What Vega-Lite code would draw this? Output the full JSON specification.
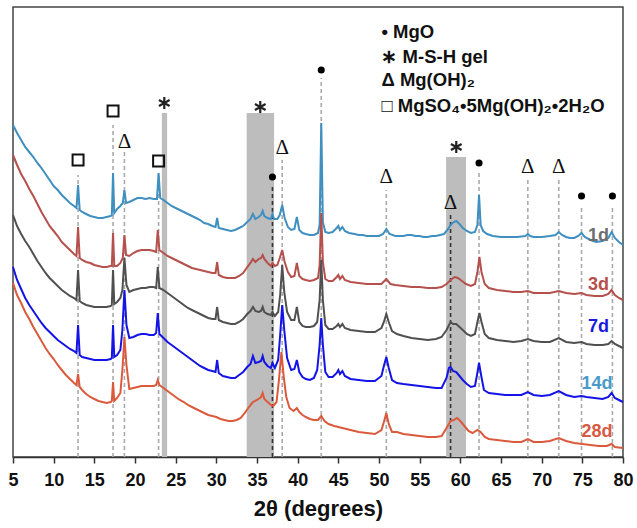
{
"$schema":"https://vega.github.io/schema/vega-lite/v6.json",
"width":610,"height":450,
"autosize":{"type":"none"},
"padding":{"left":13,"top":7,"right":14,"bottom":71},
"background":"white",
"config":{"view":{"stroke":"#444","strokeWidth":1.5}},
"datasets":{
"c1":[{"t":5.0,"v":332},{"t":5.5,"v":324},{"t":6.0,"v":317},{"t":6.5,"v":310},{"t":7.0,"v":305},{"t":7.5,"v":300},{"t":8.0,"v":294},{"t":8.5,"v":289},{"t":9.0,"v":283},{"t":9.5,"v":277},{"t":10.0,"v":271},{"t":10.5,"v":267},{"t":11.0,"v":262},{"t":11.5,"v":258},{"t":12.0,"v":254},{"t":12.5,"v":251},{"t":12.8,"v":249},{"t":13.0,"v":272},{"t":13.2,"v":247},{"t":13.5,"v":245},{"t":14.0,"v":243},{"t":14.5,"v":241},{"t":15.0,"v":240},{"t":15.5,"v":239},{"t":16.0,"v":239},{"t":16.5,"v":240},{"t":17.0,"v":241},{"t":17.15,"v":242},{"t":17.3,"v":284},{"t":17.45,"v":244},{"t":17.8,"v":248},{"t":18.2,"v":251},{"t":18.5,"v":254},{"t":18.7,"v":267},{"t":18.9,"v":254},{"t":19.3,"v":255},{"t":19.8,"v":257},{"t":20.3,"v":259},{"t":20.8,"v":259},{"t":21.3,"v":258},{"t":21.8,"v":259},{"t":22.3,"v":258},{"t":22.7,"v":258},{"t":22.9,"v":284},{"t":23.1,"v":259},{"t":23.5,"v":257},{"t":24.0,"v":254},{"t":24.5,"v":251},{"t":25.0,"v":249},{"t":25.5,"v":247},{"t":26.0,"v":245},{"t":26.5,"v":243},{"t":27.0,"v":241},{"t":27.5,"v":239},{"t":28.0,"v":237},{"t":28.5,"v":234},{"t":29.0,"v":233},{"t":29.5,"v":231},{"t":29.9,"v":230},{"t":30.1,"v":239},{"t":30.3,"v":229},{"t":30.8,"v":228},{"t":31.3,"v":227},{"t":31.8,"v":226},{"t":32.3,"v":227},{"t":32.8,"v":229},{"t":33.3,"v":231},{"t":33.8,"v":235},{"t":34.2,"v":238},{"t":34.5,"v":243},{"t":34.8,"v":238},{"t":35.2,"v":240},{"t":35.5,"v":242},{"t":35.7,"v":246},{"t":35.9,"v":241},{"t":36.3,"v":239},{"t":36.7,"v":238},{"t":36.9,"v":243},{"t":37.1,"v":238},{"t":37.5,"v":238},{"t":37.8,"v":242},{"t":38.1,"v":252},{"t":38.4,"v":239},{"t":38.8,"v":230},{"t":39.2,"v":227},{"t":39.6,"v":228},{"t":39.9,"v":240},{"t":40.2,"v":227},{"t":40.6,"v":224},{"t":41.0,"v":223},{"t":41.5,"v":222},{"t":42.0,"v":222},{"t":42.5,"v":224},{"t":42.7,"v":232},{"t":42.9,"v":334},{"t":43.1,"v":235},{"t":43.4,"v":225},{"t":43.8,"v":224},{"t":44.3,"v":225},{"t":44.8,"v":229},{"t":45.0,"v":231},{"t":45.2,"v":227},{"t":45.5,"v":230},{"t":45.8,"v":226},{"t":46.3,"v":224},{"t":47.0,"v":223},{"t":47.5,"v":222},{"t":48.0,"v":222},{"t":48.5,"v":221},{"t":49.0,"v":221},{"t":49.5,"v":221},{"t":50.0,"v":221},{"t":50.5,"v":223},{"t":50.9,"v":228},{"t":51.3,"v":223},{"t":52.0,"v":221},{"t":52.5,"v":221},{"t":53.0,"v":221},{"t":53.5,"v":222},{"t":54.0,"v":222},{"t":54.5,"v":221},{"t":55.0,"v":221},{"t":55.5,"v":220},{"t":56.0,"v":220},{"t":56.5,"v":221},{"t":57.0,"v":221},{"t":57.5,"v":222},{"t":58.0,"v":223},{"t":58.5,"v":228},{"t":58.8,"v":232},{"t":59.2,"v":235},{"t":59.5,"v":236},{"t":59.9,"v":233},{"t":60.3,"v":229},{"t":60.8,"v":226},{"t":61.3,"v":224},{"t":61.8,"v":225},{"t":62.1,"v":232},{"t":62.3,"v":262},{"t":62.5,"v":232},{"t":62.8,"v":226},{"t":63.3,"v":223},{"t":64.0,"v":221},{"t":65.0,"v":220},{"t":66.0,"v":220},{"t":67.0,"v":220},{"t":68.0,"v":221},{"t":68.3,"v":223},{"t":68.6,"v":221},{"t":69.0,"v":220},{"t":70.0,"v":220},{"t":71.0,"v":221},{"t":71.7,"v":222},{"t":72.1,"v":225},{"t":72.5,"v":222},{"t":73.0,"v":220},{"t":73.5,"v":219},{"t":74.0,"v":219},{"t":74.5,"v":221},{"t":74.9,"v":224},{"t":75.3,"v":220},{"t":76.0,"v":217},{"t":76.7,"v":215},{"t":77.5,"v":216},{"t":78.2,"v":219},{"t":78.6,"v":225},{"t":79.0,"v":219},{"t":79.5,"v":215},{"t":80.0,"v":212}],
"c3":[{"t":5.0,"v":302},{"t":5.5,"v":292},{"t":6.0,"v":283},{"t":6.5,"v":276},{"t":7.0,"v":268},{"t":7.5,"v":261},{"t":8.0,"v":253},{"t":8.5,"v":245},{"t":9.0,"v":238},{"t":9.5,"v":231},{"t":10.0,"v":226},{"t":10.5,"v":221},{"t":11.0,"v":215},{"t":11.5,"v":211},{"t":12.0,"v":207},{"t":12.5,"v":203},{"t":12.8,"v":201},{"t":13.0,"v":230},{"t":13.2,"v":199},{"t":13.5,"v":197},{"t":14.0,"v":195},{"t":14.5,"v":194},{"t":15.0,"v":192},{"t":15.5,"v":191},{"t":16.0,"v":190},{"t":16.5,"v":190},{"t":17.0,"v":191},{"t":17.15,"v":191},{"t":17.3,"v":224},{"t":17.45,"v":191},{"t":17.8,"v":191},{"t":18.2,"v":194},{"t":18.5,"v":199},{"t":18.7,"v":222},{"t":18.9,"v":202},{"t":19.3,"v":201},{"t":19.8,"v":204},{"t":20.3,"v":206},{"t":20.8,"v":207},{"t":21.3,"v":207},{"t":21.8,"v":207},{"t":22.3,"v":206},{"t":22.6,"v":205},{"t":22.8,"v":227},{"t":23.0,"v":207},{"t":23.5,"v":204},{"t":24.0,"v":201},{"t":24.5,"v":199},{"t":25.0,"v":197},{"t":25.5,"v":195},{"t":26.0,"v":193},{"t":26.5,"v":191},{"t":27.0,"v":189},{"t":27.5,"v":188},{"t":28.0,"v":187},{"t":28.5,"v":186},{"t":29.0,"v":185},{"t":29.5,"v":184},{"t":29.9,"v":184},{"t":30.1,"v":195},{"t":30.3,"v":182},{"t":30.8,"v":180},{"t":31.3,"v":179},{"t":31.8,"v":179},{"t":32.3,"v":179},{"t":32.8,"v":181},{"t":33.3,"v":184},{"t":33.8,"v":190},{"t":34.2,"v":194},{"t":34.5,"v":198},{"t":34.8,"v":195},{"t":35.2,"v":198},{"t":35.5,"v":199},{"t":35.7,"v":202},{"t":35.9,"v":198},{"t":36.3,"v":194},{"t":36.7,"v":191},{"t":36.9,"v":194},{"t":37.2,"v":191},{"t":37.5,"v":192},{"t":37.8,"v":199},{"t":38.1,"v":207},{"t":38.4,"v":195},{"t":38.8,"v":185},{"t":39.2,"v":180},{"t":39.6,"v":181},{"t":39.9,"v":194},{"t":40.2,"v":181},{"t":40.6,"v":178},{"t":41.0,"v":177},{"t":41.5,"v":176},{"t":42.0,"v":177},{"t":42.5,"v":179},{"t":42.7,"v":192},{"t":42.9,"v":244},{"t":43.1,"v":195},{"t":43.4,"v":178},{"t":43.8,"v":176},{"t":44.3,"v":176},{"t":44.8,"v":180},{"t":45.0,"v":182},{"t":45.2,"v":178},{"t":45.5,"v":181},{"t":45.8,"v":177},{"t":46.5,"v":175},{"t":47.5,"v":174},{"t":48.5,"v":173},{"t":49.5,"v":173},{"t":50.3,"v":173},{"t":50.9,"v":178},{"t":51.4,"v":173},{"t":52.0,"v":172},{"t":53.0,"v":171},{"t":54.0,"v":170},{"t":55.0,"v":170},{"t":56.0,"v":169},{"t":57.0,"v":169},{"t":57.7,"v":170},{"t":58.3,"v":173},{"t":58.8,"v":177},{"t":59.3,"v":180},{"t":59.7,"v":179},{"t":60.2,"v":176},{"t":60.7,"v":173},{"t":61.3,"v":171},{"t":61.8,"v":173},{"t":62.1,"v":185},{"t":62.35,"v":200},{"t":62.6,"v":185},{"t":63.0,"v":173},{"t":63.5,"v":169},{"t":64.5,"v":167},{"t":65.5,"v":166},{"t":66.5,"v":165},{"t":67.5,"v":165},{"t":68.3,"v":166},{"t":69.0,"v":164},{"t":70.0,"v":164},{"t":71.0,"v":164},{"t":72.1,"v":166},{"t":73.0,"v":164},{"t":74.0,"v":163},{"t":74.9,"v":164},{"t":75.5,"v":162},{"t":76.5,"v":161},{"t":77.5,"v":161},{"t":78.2,"v":163},{"t":78.6,"v":167},{"t":79.0,"v":162},{"t":79.5,"v":159},{"t":80.0,"v":157}],
"c7":[{"t":5.0,"v":242},{"t":5.5,"v":231},{"t":6.0,"v":223},{"t":6.5,"v":216},{"t":7.0,"v":210},{"t":7.5,"v":203},{"t":8.0,"v":196},{"t":8.5,"v":190},{"t":9.0,"v":184},{"t":9.5,"v":179},{"t":10.0,"v":175},{"t":10.5,"v":171},{"t":11.0,"v":167},{"t":11.5,"v":164},{"t":12.0,"v":161},{"t":12.5,"v":159},{"t":12.8,"v":157},{"t":13.0,"v":187},{"t":13.2,"v":156},{"t":13.5,"v":154},{"t":14.0,"v":152},{"t":14.5,"v":151},{"t":15.0,"v":150},{"t":15.5,"v":150},{"t":16.0,"v":150},{"t":16.5,"v":150},{"t":17.0,"v":151},{"t":17.15,"v":152},{"t":17.3,"v":187},{"t":17.45,"v":153},{"t":17.8,"v":155},{"t":18.2,"v":159},{"t":18.45,"v":167},{"t":18.7,"v":199},{"t":18.95,"v":172},{"t":19.3,"v":165},{"t":19.8,"v":167},{"t":20.3,"v":168},{"t":20.8,"v":169},{"t":21.3,"v":169},{"t":21.8,"v":170},{"t":22.3,"v":170},{"t":22.6,"v":169},{"t":22.8,"v":190},{"t":23.0,"v":169},{"t":23.5,"v":167},{"t":24.0,"v":164},{"t":24.5,"v":161},{"t":25.0,"v":158},{"t":25.5,"v":155},{"t":26.0,"v":152},{"t":26.5,"v":149},{"t":27.0,"v":147},{"t":27.5,"v":145},{"t":28.0,"v":143},{"t":28.5,"v":141},{"t":29.0,"v":139},{"t":29.5,"v":138},{"t":29.9,"v":138},{"t":30.1,"v":150},{"t":30.3,"v":137},{"t":30.8,"v":135},{"t":31.3,"v":134},{"t":31.8,"v":133},{"t":32.3,"v":133},{"t":32.8,"v":135},{"t":33.3,"v":138},{"t":33.8,"v":143},{"t":34.2,"v":146},{"t":34.5,"v":150},{"t":34.8,"v":146},{"t":35.2,"v":145},{"t":35.5,"v":146},{"t":35.7,"v":150},{"t":35.9,"v":145},{"t":36.3,"v":143},{"t":36.7,"v":142},{"t":36.9,"v":145},{"t":37.2,"v":141},{"t":37.6,"v":145},{"t":37.85,"v":162},{"t":38.1,"v":192},{"t":38.35,"v":165},{"t":38.7,"v":145},{"t":39.2,"v":137},{"t":39.6,"v":137},{"t":39.9,"v":150},{"t":40.2,"v":135},{"t":40.6,"v":131},{"t":41.0,"v":130},{"t":41.5,"v":130},{"t":42.0,"v":131},{"t":42.4,"v":135},{"t":42.7,"v":157},{"t":42.9,"v":197},{"t":43.1,"v":157},{"t":43.4,"v":132},{"t":43.8,"v":128},{"t":44.3,"v":128},{"t":44.8,"v":131},{"t":45.0,"v":133},{"t":45.2,"v":130},{"t":45.5,"v":133},{"t":45.8,"v":129},{"t":46.5,"v":127},{"t":47.5,"v":126},{"t":48.5,"v":125},{"t":49.5,"v":125},{"t":50.3,"v":129},{"t":50.6,"v":135},{"t":50.9,"v":143},{"t":51.2,"v":135},{"t":51.6,"v":126},{"t":52.2,"v":123},{"t":53.0,"v":121},{"t":54.0,"v":119},{"t":55.0,"v":118},{"t":56.0,"v":117},{"t":57.0,"v":118},{"t":57.7,"v":120},{"t":58.3,"v":127},{"t":58.8,"v":135},{"t":59.1,"v":133},{"t":59.5,"v":133},{"t":59.9,"v":130},{"t":60.3,"v":127},{"t":60.8,"v":123},{"t":61.3,"v":121},{"t":61.8,"v":123},{"t":62.1,"v":135},{"t":62.35,"v":144},{"t":62.6,"v":135},{"t":63.0,"v":123},{"t":63.5,"v":119},{"t":64.5,"v":117},{"t":65.5,"v":116},{"t":66.5,"v":115},{"t":67.5,"v":116},{"t":68.3,"v":118},{"t":69.0,"v":116},{"t":70.0,"v":115},{"t":71.0,"v":115},{"t":72.1,"v":119},{"t":73.0,"v":115},{"t":74.0,"v":114},{"t":74.9,"v":115},{"t":75.5,"v":113},{"t":76.5,"v":112},{"t":77.5,"v":112},{"t":78.2,"v":113},{"t":78.6,"v":116},{"t":79.0,"v":113},{"t":79.5,"v":111},{"t":80.0,"v":109}],
"c14":[{"t":5.0,"v":190},{"t":5.5,"v":177},{"t":6.0,"v":168},{"t":6.5,"v":159},{"t":7.0,"v":152},{"t":7.5,"v":146},{"t":8.0,"v":140},{"t":8.5,"v":134},{"t":9.0,"v":129},{"t":9.5,"v":125},{"t":10.0,"v":121},{"t":10.5,"v":117},{"t":11.0,"v":114},{"t":11.5,"v":111},{"t":12.0,"v":108},{"t":12.5,"v":106},{"t":12.8,"v":104},{"t":13.0,"v":132},{"t":13.2,"v":102},{"t":13.5,"v":100},{"t":14.0,"v":99},{"t":14.5,"v":98},{"t":15.0,"v":97},{"t":15.5,"v":97},{"t":16.0,"v":97},{"t":16.5,"v":97},{"t":17.0,"v":98},{"t":17.15,"v":99},{"t":17.3,"v":132},{"t":17.45,"v":100},{"t":17.8,"v":102},{"t":18.2,"v":107},{"t":18.45,"v":127},{"t":18.7,"v":167},{"t":18.95,"v":132},{"t":19.3,"v":119},{"t":19.8,"v":120},{"t":20.3,"v":122},{"t":20.8,"v":123},{"t":21.3,"v":123},{"t":21.8,"v":122},{"t":22.3,"v":122},{"t":22.6,"v":124},{"t":22.8,"v":144},{"t":23.0,"v":123},{"t":23.5,"v":119},{"t":24.0,"v":115},{"t":24.5,"v":112},{"t":25.0,"v":109},{"t":25.5,"v":106},{"t":26.0,"v":103},{"t":26.5,"v":100},{"t":27.0,"v":97},{"t":27.5,"v":94},{"t":28.0,"v":91},{"t":28.5,"v":89},{"t":29.0,"v":87},{"t":29.5,"v":86},{"t":29.9,"v":85},{"t":30.1,"v":97},{"t":30.3,"v":84},{"t":30.8,"v":81},{"t":31.3,"v":80},{"t":31.8,"v":79},{"t":32.3,"v":79},{"t":32.8,"v":82},{"t":33.3,"v":85},{"t":33.8,"v":90},{"t":34.2,"v":93},{"t":34.5,"v":101},{"t":34.8,"v":94},{"t":35.2,"v":95},{"t":35.5,"v":96},{"t":35.7,"v":101},{"t":35.9,"v":95},{"t":36.3,"v":91},{"t":36.7,"v":89},{"t":36.9,"v":94},{"t":37.2,"v":89},{"t":37.6,"v":97},{"t":37.85,"v":122},{"t":38.1,"v":152},{"t":38.35,"v":127},{"t":38.7,"v":99},{"t":39.2,"v":87},{"t":39.6,"v":88},{"t":39.9,"v":97},{"t":40.2,"v":85},{"t":40.6,"v":80},{"t":41.0,"v":78},{"t":41.5,"v":77},{"t":42.0,"v":79},{"t":42.4,"v":87},{"t":42.7,"v":112},{"t":42.9,"v":139},{"t":43.1,"v":112},{"t":43.4,"v":85},{"t":43.8,"v":80},{"t":44.3,"v":80},{"t":44.8,"v":84},{"t":45.0,"v":87},{"t":45.2,"v":83},{"t":45.5,"v":86},{"t":45.8,"v":81},{"t":46.5,"v":78},{"t":47.5,"v":77},{"t":48.5,"v":76},{"t":49.5,"v":76},{"t":50.3,"v":81},{"t":50.6,"v":91},{"t":50.9,"v":100},{"t":51.2,"v":89},{"t":51.6,"v":77},{"t":52.2,"v":74},{"t":53.0,"v":73},{"t":54.0,"v":72},{"t":55.0,"v":71},{"t":56.0,"v":70},{"t":57.0,"v":69},{"t":57.7,"v":69},{"t":58.3,"v":79},{"t":58.6,"v":89},{"t":58.8,"v":90},{"t":59.1,"v":86},{"t":59.5,"v":85},{"t":59.9,"v":81},{"t":60.3,"v":77},{"t":60.8,"v":73},{"t":61.3,"v":70},{"t":61.8,"v":71},{"t":62.05,"v":82},{"t":62.3,"v":94},{"t":62.55,"v":82},{"t":62.9,"v":67},{"t":63.5,"v":64},{"t":64.5,"v":63},{"t":65.5,"v":62},{"t":66.5,"v":62},{"t":67.5,"v":62},{"t":68.3,"v":65},{"t":69.0,"v":62},{"t":70.0,"v":61},{"t":71.0,"v":62},{"t":72.1,"v":66},{"t":73.0,"v":62},{"t":74.0,"v":60},{"t":74.9,"v":61},{"t":75.5,"v":60},{"t":76.5,"v":59},{"t":77.5,"v":58},{"t":78.2,"v":60},{"t":78.6,"v":64},{"t":79.0,"v":59},{"t":79.5,"v":57},{"t":80.0,"v":55}],
"c28":[{"t":5.0,"v":174},{"t":5.5,"v":162},{"t":6.0,"v":154},{"t":6.5,"v":145},{"t":7.0,"v":138},{"t":7.5,"v":130},{"t":8.0,"v":123},{"t":8.5,"v":116},{"t":9.0,"v":109},{"t":9.5,"v":103},{"t":10.0,"v":98},{"t":10.5,"v":92},{"t":11.0,"v":87},{"t":11.5,"v":82},{"t":12.0,"v":78},{"t":12.5,"v":74},{"t":12.8,"v":72},{"t":13.0,"v":83},{"t":13.2,"v":70},{"t":13.5,"v":67},{"t":14.0,"v":63},{"t":14.5,"v":60},{"t":15.0,"v":58},{"t":15.5,"v":56},{"t":16.0,"v":55},{"t":16.5,"v":54},{"t":17.0,"v":55},{"t":17.15,"v":56},{"t":17.3,"v":75},{"t":17.45,"v":56},{"t":17.8,"v":59},{"t":18.2,"v":64},{"t":18.45,"v":87},{"t":18.7,"v":120},{"t":18.95,"v":92},{"t":19.3,"v":68},{"t":19.8,"v":69},{"t":20.3,"v":70},{"t":20.8,"v":71},{"t":21.3,"v":71},{"t":21.8,"v":71},{"t":22.3,"v":71},{"t":22.6,"v":72},{"t":22.8,"v":77},{"t":23.0,"v":72},{"t":23.5,"v":69},{"t":24.0,"v":66},{"t":24.5,"v":63},{"t":25.0,"v":60},{"t":25.5,"v":57},{"t":26.0,"v":55},{"t":26.5,"v":52},{"t":27.0,"v":50},{"t":27.5,"v":48},{"t":28.0,"v":46},{"t":28.5,"v":44},{"t":29.0,"v":42},{"t":29.5,"v":41},{"t":30.0,"v":40},{"t":30.5,"v":38},{"t":31.0,"v":37},{"t":31.5,"v":36},{"t":32.0,"v":36},{"t":32.5,"v":37},{"t":33.0,"v":39},{"t":33.5,"v":44},{"t":34.0,"v":50},{"t":34.5,"v":55},{"t":35.0,"v":57},{"t":35.5,"v":60},{"t":35.7,"v":64},{"t":35.9,"v":58},{"t":36.3,"v":55},{"t":36.7,"v":52},{"t":37.0,"v":51},{"t":37.4,"v":55},{"t":37.7,"v":77},{"t":38.0,"v":105},{"t":38.3,"v":79},{"t":38.6,"v":60},{"t":39.0,"v":49},{"t":39.5,"v":46},{"t":39.9,"v":49},{"t":40.2,"v":45},{"t":40.6,"v":42},{"t":41.0,"v":40},{"t":41.5,"v":38},{"t":42.0,"v":37},{"t":42.5,"v":37},{"t":42.9,"v":41},{"t":43.3,"v":36},{"t":43.8,"v":33},{"t":44.5,"v":31},{"t":45.5,"v":29},{"t":46.5,"v":27},{"t":47.5,"v":25},{"t":48.5,"v":24},{"t":49.5,"v":23},{"t":50.3,"v":27},{"t":50.6,"v":35},{"t":50.9,"v":44},{"t":51.2,"v":33},{"t":51.6,"v":25},{"t":52.2,"v":25},{"t":53.0,"v":23},{"t":54.0,"v":22},{"t":55.0,"v":21},{"t":56.0,"v":20},{"t":57.0,"v":20},{"t":57.7,"v":21},{"t":58.3,"v":29},{"t":58.8,"v":36},{"t":59.2,"v":37},{"t":59.6,"v":39},{"t":60.0,"v":36},{"t":60.5,"v":31},{"t":61.0,"v":26},{"t":61.5,"v":24},{"t":62.1,"v":27},{"t":62.5,"v":25},{"t":63.0,"v":20},{"t":63.5,"v":18},{"t":64.5,"v":17},{"t":65.5,"v":16},{"t":66.5,"v":15},{"t":67.5,"v":15},{"t":68.3,"v":18},{"t":69.0,"v":15},{"t":70.0,"v":15},{"t":71.0,"v":16},{"t":72.1,"v":19},{"t":73.0,"v":16},{"t":74.0,"v":14},{"t":75.0,"v":13},{"t":76.0,"v":12},{"t":77.0,"v":11},{"t":78.0,"v":11},{"t":78.6,"v":13},{"t":79.0,"v":10},{"t":80.0,"v":9}],
"bands":[{"a":23.3,"b":23.95,"lo":0,"top":344},{"a":33.73,"b":37.1,"lo":0,"top":344},{"a":58.25,"b":60.7,"lo":0,"top":300}],
"drops":[{"t":13.0,"lo":0,"top":282,"k":"l"},{"t":17.3,"lo":0,"top":332,"k":"l"},{"t":18.7,"lo":0,"top":307,"k":"l"},{"t":22.9,"lo":0,"top":282,"k":"l"},{"t":36.9,"lo":0,"top":272,"k":"d"},{"t":38.1,"lo":0,"top":297,"k":"l"},{"t":42.9,"lo":0,"top":379,"k":"l"},{"t":50.9,"lo":0,"top":267,"k":"l"},{"t":58.8,"lo":0,"top":242,"k":"d"},{"t":62.3,"lo":0,"top":285,"k":"l"},{"t":68.3,"lo":0,"top":277,"k":"l"},{"t":72.1,"lo":0,"top":277,"k":"l"},{"t":74.9,"lo":0,"top":251,"k":"l"},{"t":78.7,"lo":0,"top":251,"k":"l"}],
"sq":[{"t":13.0,"v":297},{"t":17.3,"v":346},{"t":22.9,"v":296}],
"dot":[{"t":36.9,"v":280},{"t":42.9,"v":387},{"t":62.3,"v":294},{"t":74.9,"v":261},{"t":78.7,"v":261}],
"tri":[{"t":18.7,"v":315},{"t":38.1,"v":309},{"t":50.9,"v":280},{"t":58.8,"v":254},{"t":68.3,"v":290},{"t":72.1,"v":290}],
"ast":[{"t":23.6,"v":354},{"t":35.4,"v":350},{"t":59.5,"v":310}],
"labels":[{"s":"1d","t":77.0,"v":221},{"s":"3d","t":77.0,"v":172},{"s":"7d","t":77.0,"v":130},{"s":"14d","t":76.8,"v":73},{"s":"28d","t":76.8,"v":25}],
"legend":[{"t":50.3,"v":425,"txt":"• MgO"},{"t":50.3,"v":400,"txt":"∗ M-S-H gel"},{"t":50.3,"v":377,"txt":"Δ Mg(OH)₂"},{"t":50.3,"v":351,"txt":"□ MgSO₄•5Mg(OH)₂•2H₂O"}]
},
"layer":[
{"data":{"name":"bands"},"mark":{"type":"rect","color":"#bdbdbd","opacity":1},
 "encoding":{"x":{"field":"a","type":"quantitative","scale":{"domain":[5,80],"nice":false,"zero":false},
  "axis":{"values":[5,7.5,10,12.5,15,17.5,20,22.5,25,27.5,30,32.5,35,37.5,40,42.5,45,47.5,50,52.5,55,57.5,60,62.5,65,67.5,70,72.5,75,77.5,80],
  "labelExpr":"datum.value % 5 === 0 ? datum.label : ''","labelFlush":false,"labelOverlap":false,
  "grid":false,"domainColor":"#333","domainWidth":1.5,"tickColor":"#333","tickWidth":1.5,"tickSize":6,
  "labelFont":"Liberation Sans","labelFontSize":18,"labelFontWeight":"bold","labelColor":"#111","labelPadding":8,
  "title":"2θ (degrees)","titleFont":"Liberation Sans","titleFontSize":22,"titleFontWeight":"bold","titleColor":"#111","titlePadding":9}},
  "x2":{"field":"b"},
  "y":{"field":"lo","type":"quantitative","scale":{"domain":[0,450],"nice":false,"zero":false},"axis":null},"y2":{"field":"top"}}},
{"data":{"name":"drops"},"mark":{"type":"rule","strokeDash":[4,3],"strokeWidth":1.6},
 "encoding":{"x":{"field":"t","type":"quantitative"},"y":{"field":"lo","type":"quantitative"},"y2":{"field":"top"},"stroke":{"condition":{"test":"datum.k==='d'","value":"#333333"},"value":"#aaaaaa"}}},
{"data":{"name":"c1"},"mark":{"type":"line","color":"#3f8fc0","strokeWidth":2},"encoding":{"x":{"field":"t","type":"quantitative"},"y":{"field":"v","type":"quantitative"}}},
{"data":{"name":"c3"},"mark":{"type":"line","color":"#b5504c","strokeWidth":2},"encoding":{"x":{"field":"t","type":"quantitative"},"y":{"field":"v","type":"quantitative"}}},
{"data":{"name":"c7"},"mark":{"type":"line","color":"#505050","strokeWidth":2},"encoding":{"x":{"field":"t","type":"quantitative"},"y":{"field":"v","type":"quantitative"}}},
{"data":{"name":"c14"},"mark":{"type":"line","color":"#1414e6","strokeWidth":2},"encoding":{"x":{"field":"t","type":"quantitative"},"y":{"field":"v","type":"quantitative"}}},
{"data":{"name":"c28"},"mark":{"type":"line","color":"#dc5a3c","strokeWidth":2},"encoding":{"x":{"field":"t","type":"quantitative"},"y":{"field":"v","type":"quantitative"}}},
{"data":{"name":"sq"},"mark":{"type":"point","shape":"square","filled":false,"size":120,"strokeWidth":2,"color":"#111","opacity":1},"encoding":{"x":{"field":"t","type":"quantitative"},"y":{"field":"v","type":"quantitative"}}},
{"data":{"name":"dot"},"mark":{"type":"circle","size":50,"color":"#000","opacity":1},"encoding":{"x":{"field":"t","type":"quantitative"},"y":{"field":"v","type":"quantitative"}}},
{"data":{"name":"ast"},"mark":{"type":"point","shape":"M0,-1L0,1M-0.87,-0.5L0.87,0.5M-0.87,0.5L0.87,-0.5","filled":false,"size":150,"strokeWidth":2.2,"color":"#222","opacity":1},"encoding":{"x":{"field":"t","type":"quantitative"},"y":{"field":"v","type":"quantitative"}}},
{"data":{"name":"tri"},"mark":{"type":"text","text":"Δ","font":"Liberation Serif","fontSize":21,"baseline":"middle","align":"center","color":"#111"},"encoding":{"x":{"field":"t","type":"quantitative"},"y":{"field":"v","type":"quantitative"}}},
{"data":{"name":"labels"},"mark":{"type":"text","font":"Liberation Sans","fontSize":18,"fontWeight":"bold","baseline":"middle","align":"center"},
 "encoding":{"x":{"field":"t","type":"quantitative"},"y":{"field":"v","type":"quantitative"},"text":{"field":"s"},
  "color":{"field":"s","type":"nominal","scale":{"domain":["1d","3d","7d","14d","28d"],"range":["#6e6e6e","#b5504c","#1a1ae0","#4a9bcb","#d85a42"]},"legend":null}}},
{"data":{"name":"legend"},"mark":{"type":"text","font":"Liberation Sans","fontSize":18.5,"fontWeight":"bold","baseline":"middle","align":"left","color":"#111"},
 "encoding":{"x":{"field":"t","type":"quantitative"},"y":{"field":"v","type":"quantitative"},"text":{"field":"txt"}}}
]
}
